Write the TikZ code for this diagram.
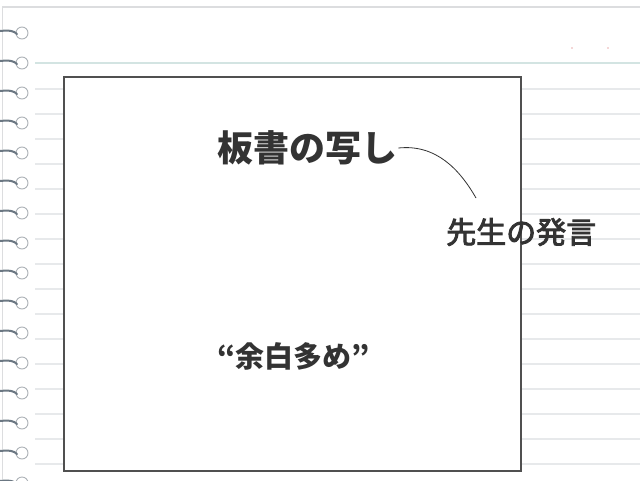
\documentclass[tikz,border=0pt]{standalone}
\usepackage{fontspec}
\newfontfamily\jpfont{Noto Sans CJK JP}
\newfontfamily\jpmid[FakeBold=3]{Noto Sans CJK JP}
\usetikzlibrary{calc,positioning}

\definecolor{rulegray}{HTML}{E7E9EB}
\definecolor{margincol}{HTML}{D3E4E2}
\definecolor{edgegray}{HTML}{DCDDDF}
\definecolor{ringgray}{HTML}{ADB2B7}
\definecolor{wiregray}{HTML}{6B7782}
\definecolor{boxgray}{HTML}{505050}
\definecolor{inkgray}{HTML}{333333}
\definecolor{dotpink}{HTML}{E9AFAF}

\tikzset{
  rule/.style={draw=rulegray,line width=1.2pt},
  ring/.style={draw=ringgray,line width=0.9pt},
  wire/.style={draw=wiregray,line width=2pt,line cap=round},
  jptext/.style={text=inkgray,font=\jpfont,inner sep=0pt}
}

\begin{document}
\begin{tikzpicture}[x=1pt,y=-1pt]
\useasboundingbox[fill=white] (0,0) rectangle (640,480);

% page edges
\draw[edgegray,line width=1.6pt] (2,7) -- (640,7);
\draw[edgegray,line width=1pt] (2.5,7) -- (2.5,480);

% ruled lines
\draw[margincol,line width=1.4pt] (35,63) -- (640,63);
\foreach \y in {89,114,...,464}
  \draw[rule] (35,\y) -- (640,\y);

% spiral rings
\foreach \y in {33,63,...,483} {
  \draw[ring] (22,\y) circle (6);
  \draw[wire] (0,\y-2) .. controls (10,\y-3) and (14,\y-2) .. (17,\y+1);
}

% two small dots
\fill[dotpink] (572,48) circle (0.9);
\fill[dotpink] (608,48) circle (0.9);

% sheet
\coordinate (tl) at (64,77);
\coordinate (br) at (521,471);
\draw[boxgray,line width=1.2pt,fill=white] (tl) rectangle (br);

% texts
\node[jptext,anchor=west,font=\jpfont\bfseries\fontsize{36}{40}\selectfont] (board) at (217,148) {板書の写し};
\node[jptext,anchor=west,font=\jpmid\fontsize{30}{34}\selectfont] (teacher) at (446,232) {先生の発言};
\node[jptext,anchor=west,font=\jpfont\bfseries\fontsize{29}{32}\selectfont] (margin) at (217,356) {“余白多め”};

% connector
\coordinate (tip) at (476,198);
\draw[inkgray,line width=0.8pt] (board.east) ++(1,0) .. controls +(38,-4) and (460,170) .. (tip);
\end{tikzpicture}
\end{document}
